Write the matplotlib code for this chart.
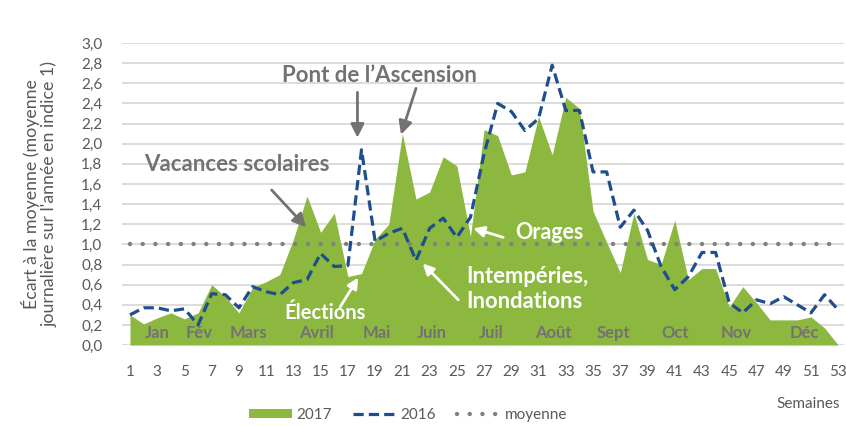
import matplotlib.pyplot as plt
import numpy as np

plt.rcParams['font.family'] = ['Lato', 'DejaVu Sans']

semaines = list(range(1, 54))

# indice hebdomadaire 2017 (aire) et 2016 (tirets)
v2017 = [0.30, 0.21, 0.27, 0.32, 0.26, 0.32, 0.60, 0.48, 0.32, 0.57,
         0.63, 0.70, 1.05, 1.48, 1.12, 1.31, 0.68, 0.71, 1.05, 1.20,
         2.10, 1.45, 1.52, 1.87, 1.78, 1.08, 2.14, 2.08, 1.69, 1.72,
         2.27, 1.89, 2.46, 2.35, 1.33, 1.02, 0.72, 1.31, 0.85, 0.80,
         1.24, 0.65, 0.76, 0.76, 0.38, 0.58, 0.42, 0.25, 0.25, 0.25,
         0.28, 0.17, 0.00]
v2016 = [0.30, 0.37, 0.37, 0.34, 0.36, 0.20, 0.51, 0.50, 0.37, 0.58,
         0.53, 0.50, 0.62, 0.65, 0.91, 0.78, 0.79, 1.94, 1.03, 1.11,
         1.16, 0.84, 1.16, 1.26, 1.07, 1.27, 1.90, 2.40, 2.32, 2.13,
         2.25, 2.78, 2.33, 2.33, 1.72, 1.72, 1.17, 1.34, 1.14, 0.78,
         0.55, 0.68, 0.92, 0.92, 0.42, 0.32, 0.45, 0.41, 0.48, 0.40,
         0.32, 0.50, 0.35]
moyenne = [1.0] * len(semaines)

mois = ['Jan', 'Fév', 'Mars', 'Avril', 'Mai', 'Juin', 'Juil', 'Août',
        'Sept', 'Oct', 'Nov', 'Déc']
mois_pos = [3.0, 6.1, 9.7, 14.7, 19.1, 23.2, 27.5, 32.1, 36.5, 41.0, 45.5, 50.5]

vert = '#8cb83f'
bleu = '#1f4e8c'
gris = '#808080'
gris_txt = '#767171'

fig = plt.figure(figsize=(8.46, 4.26), dpi=100)
ax = fig.add_axes([0.144, 0.19, 0.854, 0.709])

ax.fill_between(semaines, v2017, 0, color=vert, lw=0, label='2017', zorder=2)
ax.plot(semaines, v2016, color=bleu, lw=2.3, dashes=(3.2, 1.6), label='2016', zorder=4)
ax.plot(semaines, moyenne, color=gris, lw=3.2, linestyle=(0, (0.01, 2.85)),
        dash_capstyle='round', label='moyenne', zorder=3)

ax.set_xlim(0.4, 53.45)
ax.set_ylim(0, 3.0)
ax.set_yticks(np.arange(0, 3.01, 0.2))
ax.set_yticklabels([f'{t:.1f}'.replace('.', ',') for t in np.arange(0, 3.01, 0.2)])
ax.set_xticks(range(1, 54, 2))
ax.tick_params(axis='both', length=0, labelsize=11, colors='#595959')
ax.tick_params(axis='x', pad=14)
ax.tick_params(axis='y', pad=14)
ax.grid(axis='y', color='#d9d9d9', lw=1.3, zorder=0)
ax.set_axisbelow(True)
for s in ax.spines.values():
    s.set_visible(False)

ax.set_ylabel("Écart à la moyenne (moyenne\njournalière sur l'année en indice 1)",
              fontsize=12.8, color='#595959', labelpad=17, linespacing=1.1)

for m, x in zip(mois, mois_pos):
    ax.text(x, 0.12, m, ha='center', va='center', fontsize=12,
            fontweight='bold', color=gris_txt, zorder=5)

# annotations
fleche_g = dict(arrowstyle='-|>', color=gris_txt, lw=2, mutation_scale=20,
                shrinkA=0, shrinkB=0)
fleche_b = dict(arrowstyle='-|>', color='white', lw=2, mutation_scale=16,
                shrinkA=0, shrinkB=0)

ax.text(19.3, 2.68, "Pont de l’Ascension", ha='center', va='center',
        fontsize=16, fontweight='bold', color=gris_txt, zorder=6)
ax.annotate('', xy=(17.7, 2.06), xytext=(17.7, 2.51), arrowprops=fleche_g, zorder=6)
ax.annotate('', xy=(20.9, 2.09), xytext=(22.0, 2.55), arrowprops=fleche_g, zorder=6)

ax.text(8.87, 1.79, 'Vacances scolaires', ha='center', va='center',
        fontsize=16, fontweight='bold', color=gris_txt, zorder=6)
ax.annotate('', xy=(13.94, 1.17), xytext=(11.4, 1.54), arrowprops=fleche_g, zorder=6)

ax.text(15.3, 0.32, 'Élections', ha='center', va='center',
        fontsize=14.5, fontweight='bold', color='white', zorder=6)
ax.annotate('', xy=(17.76, 0.67), xytext=(16.44, 0.38), arrowprops=fleche_b, zorder=6)

ax.text(31.8, 1.12, 'Orages', ha='center', va='center',
        fontsize=15.5, fontweight='bold', color='white', zorder=6)
ax.annotate('', xy=(26.2, 1.16), xytext=(28.4, 1.07), arrowprops=fleche_b, zorder=6)

ax.text(25.7, 0.56, 'Intempéries,\nInondations', ha='left', va='center',
        fontsize=15.8, fontweight='bold', color='white', linespacing=1.25, zorder=6)
ax.annotate('', xy=(22.5, 0.81), xytext=(25.1, 0.45), arrowprops=fleche_b, zorder=6)

fig.text(840 / 846, 1 - 404 / 426, 'Semaines', ha='right', va='center',
         fontsize=11, color='#595959')

fig.legend(loc='center', bbox_to_anchor=(408 / 846, 1 - 415 / 426), ncol=3,
           frameon=False, fontsize=11, labelcolor='#595959', handlelength=2.8,
           handleheight=0.6, columnspacing=1.4, handletextpad=0.3)

fig.savefig('out.png', dpi=100)
